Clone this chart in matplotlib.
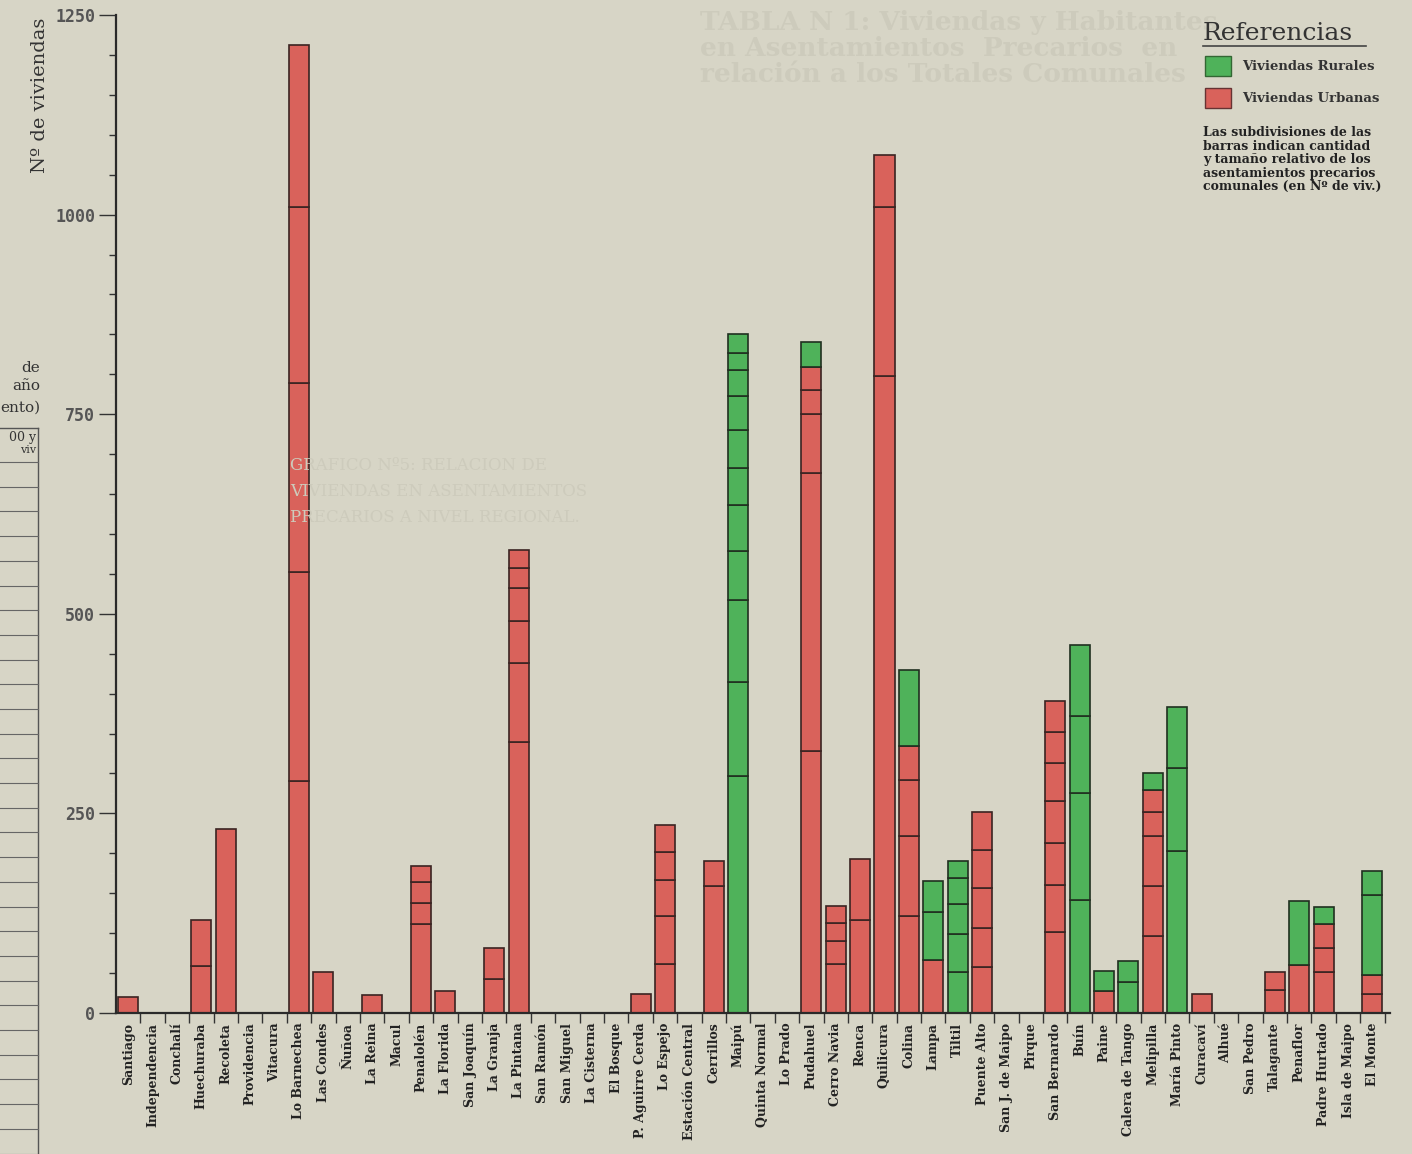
import matplotlib.pyplot as plt
from matplotlib.patches import Rectangle
from matplotlib.lines import Line2D
import numpy as np

communes = ['Santiago', 'Independencia', 'Conchalí', 'Huechuraba', 'Recoleta',
            'Providencia', 'Vitacura', 'Lo Barnechea', 'Las Condes', 'Ñuñoa',
            'La Reina', 'Macul', 'Penalolén', 'La Florida', 'San Joaquín',
            'La Granja', 'La Pintana', 'San Ramón', 'San Miguel', 'La Cisterna',
            'El Bosque', 'P. Aguirre Cerda', 'Lo Espejo', 'Estación Central',
            'Cerrillos', 'Maipú', 'Quinta Normal', 'Lo Prado', 'Pudahuel',
            'Cerro Navia', 'Renca', 'Quilicura', 'Colina', 'Lampa', 'Tiltil',
            'Puente Alto', 'San J. de Maipo', 'Pirque', 'San Bernardo', 'Buín',
            'Paine', 'Calera de Tango', 'Melipilla', 'María Pinto', 'Curacaví',
            'Alhué', 'San Pedro', 'Talagante', 'Penaflor', 'Padre Hurtado',
            'Isla de Maipo', 'El Monte']

# size of each settlement (n. of dwellings), bottom to top
urban = [[20], [], [], [59, 57], [231],
         [], [], [291, 261, 237, 220, 203], [51], [],
         [23], [], [112, 26, 26, 20], [27], [],
         [43, 38], [339, 100, 52, 41, 25, 23], [], [], [],
         [], [24], [61, 60, 45, 36, 33], [],
         [159, 32], [], [], [], [328, 348, 74, 30, 29],
         [61, 29, 23, 21], [117, 76], [798, 212, 65], [121, 101, 70, 42], [66], [],
         [57, 49, 51, 47, 48], [], [], [101, 59, 53, 52, 48, 39, 39], [],
         [27], [], [96, 63, 63, 30, 27], [], [24],
         [], [], [29, 22], [60], [51, 31, 30],
         [], [24, 24]]
rural = [[], [], [], [], [],
         [], [], [], [], [],
         [], [], [], [], [],
         [], [], [], [], [],
         [], [], [], [],
         [], [297, 117, 103, 62, 57, 47, 47, 43, 32, 22, 23], [], [], [31],
         [], [], [], [96], [61, 38], [51, 48, 38, 32, 22],
         [], [], [], [], [141, 135, 96, 89],
         [26], [39, 26], [22], [203, 104, 76], [],
         [], [], [], [80], [21],
         [], [100, 30]]

W, H = 1412, 1154
bg = '#d7d5c6'
red = '#d9625b'
green = '#4fb25a'

fig = plt.figure(figsize=(W / 100, H / 100), dpi=100)
fig.patch.set_facecolor(bg)

# faint show-through from the other side of the page
ghost = '#cdcbbc'
for k, line in enumerate(['TABLA N 1: Viviendas y Habitantes',
                          'en Asentamientos  Precarios  en',
                          'relación a los Totales Comunales']):
    fig.text(700 / W, 1 - (30 + 26 * k) / H, line, fontsize=19, fontweight='bold',
             family='DejaVu Serif', color=ghost, va='baseline')
for k, line in enumerate(['GRAFICO Nº5: RELACION DE',
                          'VIVIENDAS EN ASENTAMIENTOS',
                          'PRECARIOS A NIVEL REGIONAL.']):
    fig.text(290 / W, 1 - (470 + 26 * k) / H, line, fontsize=12,
             family='DejaVu Serif', color=ghost, va='baseline')

# clipped neighbour figure on the left edge
for txt, yy in [('de', 372), ('año', 390), ('ento)', 412)]:
    fig.text(40 / W, 1 - yy / H, txt, fontsize=11, family='DejaVu Serif',
             color='#333333', ha='right', va='baseline')
fig.add_artist(Line2D([0, 38 / W], [1 - 428 / H] * 2, color='#555555', lw=1))
fig.add_artist(Line2D([38 / W] * 2, [0, 1 - 428 / H], color='#555555', lw=1))
fig.text(36 / W, 1 - 441 / H, '00 y', fontsize=9, family='DejaVu Serif',
         color='#333333', ha='right', va='baseline')
fig.text(36 / W, 1 - 453 / H, 'viv', fontsize=8, family='DejaVu Serif',
         color='#333333', ha='right', va='baseline')
for yy in np.arange(462, H, 24.7):
    fig.add_artist(Line2D([0, 38 / W], [1 - yy / H] * 2, color='#666666', lw=0.8))

ax = fig.add_axes([116 / W, 141 / H, 1274 / W, 998 / H])
ax.set_facecolor('none')

for i in range(len(communes)):
    base = 0
    for v in urban[i]:
        ax.bar(i, v, 0.82, bottom=base, color=red, edgecolor='#3a2422', linewidth=1.2)
        base += v
    for v in rural[i]:
        ax.bar(i, v, 0.82, bottom=base, color=green, edgecolor='#203020', linewidth=1.2)
        base += v

ax.set_xlim(-0.5, 51.72)
ax.set_ylim(0, 1250)
ax.spines['top'].set_visible(False)
ax.spines['right'].set_visible(False)
for s in ['left', 'bottom']:
    ax.spines[s].set_color('#2a2a2a')
    ax.spines[s].set_linewidth(1.6)

ax.set_yticks(np.arange(0, 1251, 250))
ax.set_yticks(np.arange(0, 1251, 50), minor=True)
ax.tick_params(axis='y', which='major', length=12, width=1, color='#333333',
               pad=3, labelsize=12, labelcolor='#555555')
ax.tick_params(axis='y', which='minor', length=5, width=1, color='#333333')
for t in ax.get_yticklabels():
    t.set_family('DejaVu Sans Mono')
    t.set_fontweight('bold')

ax.set_xticks(np.arange(len(communes)))
ax.set_xticklabels(communes, rotation=90, family='DejaVu Serif',
                   fontweight='bold', fontsize=9, color='#222222')
ax.set_xticks(np.arange(0.5, len(communes), 1), minor=True)
ax.tick_params(axis='x', which='major', length=0, pad=7)
ax.tick_params(axis='x', which='minor', length=7, width=1, color='#333333')

fig.text(40 / W, 1 - 95 / H, 'Nº de viviendas', rotation=90, fontsize=14,
         family='DejaVu Serif', color='#333333', ha='center', va='center')

# legend box
fig.text(1203 / W, 1 - 40 / H, 'Referencias', fontsize=18, family='DejaVu Serif',
         color='#333333', va='baseline')
fig.add_artist(Line2D([1203 / W, 1366 / W], [1 - 46 / H] * 2, color='#444444', lw=1.2))
fig.add_artist(Rectangle((1205 / W, 1 - 76 / H), 26 / W, 20 / H, facecolor=green,
                         edgecolor='#336633', lw=1, transform=fig.transFigure))
fig.add_artist(Rectangle((1205 / W, 1 - 108 / H), 26 / W, 20 / H, facecolor=red,
                         edgecolor='#663333', lw=1, transform=fig.transFigure))
fig.text(1242 / W, 1 - 67 / H, 'Viviendas Rurales', fontsize=9.5, fontweight='bold',
         family='DejaVu Serif', color='#333333', va='center')
fig.text(1242 / W, 1 - 99 / H, 'Viviendas Urbanas', fontsize=9.5, fontweight='bold',
         family='DejaVu Serif', color='#333333', va='center')
fig.text(1203 / W, 1 - 126 / H,
         'Las subdivisiones de las\nbarras indican cantidad\ny tamaño relativo de los\n'
         'asentamientos precarios\ncomunales (en Nº de viv.)',
         fontsize=9, fontweight='bold', family='DejaVu Serif', color='#222222',
         va='top', linespacing=1.05)

fig.savefig('out.png', dpi=100, facecolor=bg)
